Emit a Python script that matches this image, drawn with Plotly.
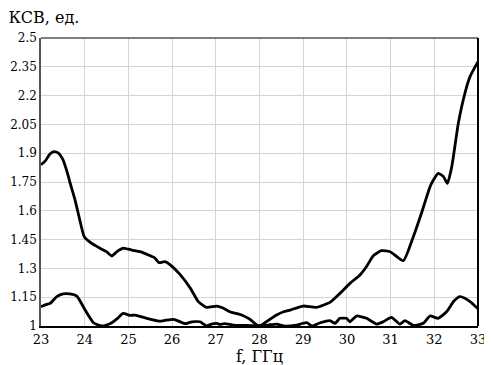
import plotly.graph_objects as go

upper_f = [23.0, 23.1, 23.2, 23.3, 23.4, 23.5, 23.6, 23.66, 23.78, 23.89, 23.99, 24.16, 24.35, 24.5, 24.62,
           24.75, 24.88, 25.0, 25.15, 25.3, 25.46, 25.6, 25.7, 25.84, 25.95, 26.19, 26.42, 26.6, 26.79,
           27.02, 27.15, 27.32, 27.59, 27.78, 27.98, 28.24, 28.39, 28.55, 28.7, 29.0, 29.3, 29.61, 29.84,
           30.07, 30.3, 30.45, 30.6, 30.79, 30.99, 31.29, 31.52, 31.71, 31.92, 32.09, 32.21, 32.3, 32.4,
           32.55, 32.7, 32.82, 33.0]
upper_v = [1.84, 1.86, 1.895, 1.908, 1.90, 1.868, 1.80, 1.75, 1.656, 1.55, 1.465, 1.43, 1.405, 1.387, 1.365,
           1.39, 1.405, 1.40, 1.392, 1.385, 1.37, 1.355, 1.33, 1.335, 1.32, 1.266, 1.196, 1.127, 1.097,
           1.104, 1.095, 1.074, 1.057, 1.035, 1.0, 1.035, 1.057, 1.074, 1.083, 1.104, 1.097, 1.123, 1.17,
           1.222, 1.266, 1.31, 1.365, 1.392, 1.387, 1.34, 1.465, 1.59, 1.735, 1.795, 1.778, 1.743, 1.83,
           2.056, 2.212, 2.30, 2.377]

lower_f = [23.0, 23.1, 23.21, 23.36, 23.51, 23.66, 23.82, 23.92, 24.01, 24.2, 24.39, 24.5, 24.62, 24.75,
           24.88, 25.04, 25.15, 25.42, 25.72, 25.85, 26.03, 26.12, 26.3, 26.45, 26.64, 26.72, 26.79, 26.9,
           27.02, 27.09, 27.2, 27.4, 27.6, 27.8, 27.98, 28.2, 28.39, 28.55, 28.7, 28.85, 29.08, 29.2, 29.39,
           29.61, 29.73, 29.84, 29.99, 30.07, 30.22, 30.45, 30.68, 30.83, 31.02, 31.21, 31.33, 31.52, 31.75,
           31.9, 32.09, 32.28, 32.45, 32.58, 32.7, 32.82, 33.0]
lower_v = [1.10, 1.11, 1.118, 1.153, 1.167, 1.167, 1.156, 1.12, 1.083, 1.017, 1.0, 1.005, 1.017, 1.04,
           1.066, 1.055, 1.057, 1.04, 1.025, 1.03, 1.035, 1.028, 1.012, 1.022, 1.022, 1.01, 1.0, 1.01,
           1.014, 1.008, 1.012, 1.005, 1.003, 1.002, 1.0, 1.005, 1.01, 1.0, 1.0, 1.005, 1.017, 1.0, 1.017,
           1.028, 1.014, 1.04, 1.04, 1.022, 1.052, 1.04, 1.01, 1.022, 1.045, 1.01, 1.028, 1.003, 1.014,
           1.052, 1.04, 1.074, 1.13, 1.153, 1.145, 1.127, 1.09]

x_ticks = [23, 24, 25, 26, 27, 28, 29, 30, 31, 32, 33]
y_ticks = [1, 1.15, 1.3, 1.45, 1.6, 1.75, 1.9, 2.05, 2.2, 2.35, 2.5]
y_labels = ["1", "1.15", "1.3", "1.45", "1.6", "1.75", "1.9", "2.05", "2.2", "2.35", "2.5"]

font = "DejaVu Serif"

fig = go.Figure()
for f, v in [(upper_f, upper_v), (lower_f, lower_v)]:
    fig.add_trace(go.Scatter(x=f, y=v, mode="lines",
                             line=dict(color="black", width=2.8, shape="spline", smoothing=0.5),
                             showlegend=False, hoverinfo="skip"))

# the page body has an 8px default margin, so margins are reduced by 8 on left/top
fig.update_layout(
    template="none",
    width=492, height=365,
    margin=dict(l=33, r=22, t=30, b=47, autoexpand=False),
    paper_bgcolor="white", plot_bgcolor="white",
    font=dict(family=font, size=13, color="black"),
    title=dict(text="КСВ, ед.", xref="container", yref="container", x=0.001, xanchor="left",
               y=1 - 9/365, yanchor="middle", font=dict(family=font, size=16, color="black")),
    xaxis=dict(range=[23, 33], tickvals=x_ticks, showgrid=True, gridcolor="#d4d4d4", gridwidth=1.2,
               showline=True, linecolor="black", linewidth=2, mirror=False, ticks="",
               zeroline=False, automargin=False, tickfont=dict(family=font, size=13),
               title=dict(text="f, ГГц", font=dict(family=font, size=16), standoff=1)),
    yaxis=dict(range=[1, 2.5], tickvals=y_ticks, ticktext=y_labels, showgrid=True, gridcolor="#d4d4d4",
               gridwidth=1.2, showline=True, linecolor="#555555", linewidth=1.5, mirror=False, ticks="",
               zeroline=False, automargin=False, tickfont=dict(family=font, size=12)),
    shapes=[
        dict(type="line", xref="paper", yref="paper", x0=0, x1=1, y0=1, y1=1,
             line=dict(color="#555555", width=1.5)),
        dict(type="line", xref="paper", yref="paper", x0=1, x1=1, y0=0, y1=1,
             line=dict(color="black", width=2)),
    ],
)

fig.write_html("out.html")
